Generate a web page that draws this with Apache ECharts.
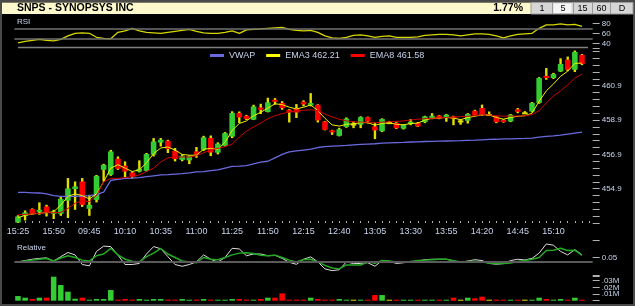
<!DOCTYPE html>
<html>
<head>
<meta charset="utf-8">
<script src="https://cdn.jsdelivr.net/npm/echarts@6.0.0/dist/echarts.min.js"></script>
<style>
html, body { margin: 0; padding: 0; background: #000; }
#chart { width: 635px; height: 306px; }
</style>
</head>
<body>
<div id="chart"></div>
<script>
// 5分钟K线 SNPS，前一天尾盘 + 当天
var times = ['15:25','15:30','15:35','15:40','15:45','15:50','15:55',
  '09:30','09:35','09:40','09:45','09:50','09:55','10:00','10:05','10:10','10:15','10:20','10:25','10:30',
  '10:35','10:40','10:45','10:50','10:55','11:00','11:05','11:10','11:15','11:20','11:25','11:30','11:35',
  '11:40','11:45','11:50','11:55','12:00','12:05','12:10','12:15','12:20','12:25','12:30','12:35','12:40',
  '12:45','12:50','12:55','13:00','13:05','13:10','13:15','13:20','13:25','13:30','13:35','13:40','13:45',
  '13:50','13:55','14:00','14:05','14:10','14:15','14:20','14:25','14:30','14:35','14:40','14:45','14:50',
  '14:55','15:00','15:05','15:10','15:15','15:20','15:25','15:30',''];

var opens = [452.93,453.32,453.71,453.55,453.86,453.44,453.44,454.2,454.88,455.32,
  453.73,454.25,456.0,455.71,456.64,456.24,455.84,455.9,455.94,456.88,
  457.59,457.69,457.11,456.58,456.55,457.07,457.17,457.85,457.0,457.4,
  457.94,459.31,459.15,458.92,459.63,459.37,460.08,459.89,459.5,459.6,
  459.97,459.75,459.79,458.82,458.3,457.98,458.5,458.7,458.63,459.07,
  458.53,458.25,458.78,458.73,458.4,458.67,458.73,458.78,459.0,459.17,
  459.02,459.11,458.88,458.86,459.44,459.6,459.25,459.11,458.9,458.82,
  459.53,459.35,459.4,459.9,461.48,461.35,461.73,462.42,461.83,462.7];
var closes = [453.28,453.51,453.44,453.67,453.51,453.57,454.31,454.91,455.03,453.96,
  453.96,455.65,456.29,457.07,456.06,455.9,455.61,456.06,456.92,457.65,
  457.75,457.21,456.63,456.82,456.8,456.88,457.89,457.01,457.52,458.14,
  459.31,459.05,458.97,459.69,459.5,459.93,459.98,459.6,459.37,459.34,
  459.81,459.89,458.88,458.33,458.18,458.37,458.98,458.7,459.07,458.82,
  458.3,458.96,458.78,458.43,458.62,458.8,458.53,459.11,459.15,458.98,
  459.21,458.98,458.88,459.25,459.2,459.2,459.25,458.78,458.82,459.21,
  459.38,459.35,459.9,461.35,461.35,461.58,462.17,461.83,462.87,462.17];
var lows = [452.9,453.05,453.4,453.38,453.28,453.13,453.32,453.19,453.67,453.84,
  453.32,454.1,455.32,455.65,456.0,455.58,455.5,455.85,455.9,456.78,
  457.36,456.98,456.49,456.5,456.33,456.7,457.1,456.8,456.9,457.35,
  457.85,458.73,458.9,458.9,459.25,459.35,459.8,459.5,458.76,459.02,
  459.7,459.7,458.76,458.3,458.04,457.95,458.45,458.43,458.43,458.7,
  457.79,458.2,458.7,458.38,458.35,458.6,458.5,458.72,458.95,458.95,
  458.8,458.6,458.63,458.7,459.15,459.15,459.15,458.72,458.75,458.78,
  459.3,459.3,459.35,459.85,461.25,461.3,461.7,461.75,461.7,462.1];
var highs = [453.35,453.63,453.75,454.1,453.96,453.67,454.41,455.52,455.32,455.52,
  454.54,455.7,456.35,457.16,456.78,456.49,455.9,456.55,456.98,457.85,
  457.85,457.75,457.27,456.9,456.84,457.33,457.98,458.0,457.6,458.2,
  459.41,459.4,459.2,459.79,459.85,460.2,460.18,460.0,459.54,459.83,
  460.05,460.47,459.82,458.85,458.33,458.45,459.05,458.82,459.12,459.1,
  458.76,459.0,458.85,458.78,458.66,458.96,458.78,459.15,459.3,459.2,
  459.25,459.15,458.95,459.3,459.5,459.8,459.4,459.15,458.95,459.25,
  459.6,459.42,459.95,461.4,461.93,461.65,462.5,462.6,462.95,462.75];

var vwap = [454.68,454.68,454.66,454.65,454.6,454.5,454.45,454.45,454.46,454.47,
  454.5,454.55,454.7,455.38,455.45,455.5,455.52,455.55,455.6,455.65,
  455.7,455.72,455.75,455.78,455.82,455.88,455.9,455.95,456.0,456.1,
  456.2,456.22,456.25,456.35,456.45,456.5,456.7,456.9,457.05,457.1,
  457.15,457.2,457.3,457.35,457.38,457.4,457.42,457.45,457.48,457.5,
  457.52,457.55,457.57,457.59,457.6,457.62,457.63,457.65,457.66,457.67,
  457.68,457.69,457.7,457.72,457.73,457.75,457.77,457.78,457.8,457.8,
  457.82,457.83,457.85,457.9,457.95,457.98,458.02,458.08,458.14,458.2];
var ema3 = [453.2,453.35,453.42,453.48,453.5,453.55,453.95,454.45,454.6,454.5,
  454.3,454.6,455.3,456.1,456.3,456.1,455.9,456.0,456.4,456.95,
  457.27,457.33,457.15,456.9,456.85,456.85,457.2,457.25,457.2,457.6,
  458.3,458.7,458.85,459.15,459.35,459.6,459.85,459.8,459.65,459.55,
  459.65,459.78,459.45,459.0,458.62,458.55,458.65,458.68,458.75,458.75,
  458.6,458.7,458.75,458.65,458.62,458.7,458.72,458.9,459.0,459.02,
  459.05,459.02,458.92,459.05,459.12,459.21,459.2,459.05,458.95,459.05,
  459.12,459.15,459.3,460.0,460.6,461.0,461.45,461.75,462.2,462.22];
var ema8 = [453.38,453.4,453.43,453.46,453.5,453.5,453.52,453.75,454.05,454.2,
  454.15,454.5,455.3,455.5,455.5,455.55,455.6,455.7,455.9,456.1,
  456.45,456.7,456.75,456.75,456.74,456.82,457.0,457.17,457.25,457.35,
  457.5,457.9,458.25,458.5,458.73,458.98,459.15,459.28,459.36,459.42,
  459.47,459.5,459.45,459.25,459.08,458.95,458.85,458.8,458.78,458.77,
  458.74,458.78,458.8,458.82,458.85,458.9,458.95,458.98,459.0,459.03,
  459.05,459.08,459.1,459.12,459.16,459.21,459.2,459.15,459.13,459.13,
  459.14,459.15,459.22,459.45,459.9,460.3,460.6,460.95,461.35,461.58];

var rsi = [41,44,46,48,46,45,48,55,60,61,60,52,50,49,62,65,70,65,62,61,
  60,62,64,66,68,64,61,60,60,62,65,60,67,68,69,70,71,72,68,66,
  65,66,62,55,51,50,52,56,57,55,52,54,55,52,52,52,53,56,57,58,
  58,57,55,57,59,59,58,55,51,55,58,59,60,70,77,77,79,77,78,74];

var relWhite = [0,0.015,0.03,0.04,0.046,0.01,0.06,0.107,0.08,-0.03,
  -0.045,0.12,0.18,0.175,0.077,-0.03,-0.03,-0.018,0.09,0.175,
  0.15,0.06,-0.03,-0.05,-0.03,0,0.08,0.03,-0.003,0.05,
  0.155,0.148,0.07,0.09,0.09,0.07,0.076,0.04,-0.005,-0.028,
  0.03,0.057,0,-0.08,-0.1,-0.09,0,-0.02,-0.018,-0.01,
  -0.05,0.015,0.008,-0.018,-0.01,0,0.01,0.025,0.03,0.03,
  0.03,0.012,-0.005,0.01,0.025,0.015,-0.018,-0.027,-0.02,0.015,
  0.03,0.022,0.04,0.1,0.205,0.19,0.12,0.08,0.14,0.08];
var relGreen = [0,0.01,0.02,0.03,0.038,0.01,0.045,0.069,0.05,0.02,
  0.01,0.07,0.09,0.155,0.08,0.03,0.008,0,0.06,0.1,
  0.153,0.09,0.05,0.01,0,-0.01,0.05,0.03,0.025,0.05,
  0.08,0.1,0.105,0.095,0.075,0.07,0.077,0.05,0.02,0,
  0.028,0.03,0,-0.04,-0.07,-0.08,-0.035,-0.035,-0.035,0,
  -0.015,0.015,0.01,0,-0.005,0.005,0.015,0.02,0.025,0.03,
  0.03,0.012,0,0.005,0.008,0,-0.015,-0.018,-0.018,-0.012,
  0.005,0.015,0.03,0.05,0.13,0.134,0.155,0.13,0.134,0.075];

var volume = [0.007,0.0045,0.0025,0.0045,0.0045,0.036,0.0235,0.0135,0.003,0.0045,
  0.0015,0.0025,0.0025,0.016,0.0015,0.0025,0.0015,0.0025,0.0015,0.0025,
  0.0025,0.0015,0.0015,0.0025,0.0015,0.0015,0.0025,0.0015,0.0015,0.0015,
  0.0025,0.0025,0.0015,0.0015,0.0025,0.0045,0.0045,0.011,0.0015,0.0015,
  0.0015,0.0045,0.0025,0.0015,0.0015,0.0025,0.0015,0.0015,0.0015,0.0015,
  0.0085,0.0085,0.0015,0.0015,0.0015,0.0015,0.0015,0.0015,0.0015,0.0015,
  0.0015,0.0045,0.0015,0.0045,0.0035,0.006,0.0015,0.0015,0.0015,0.0015,
  0.0015,0.0015,0.0015,0.0045,0.0025,0.0015,0.0025,0.0015,0.0045,0.0015];

var rsiTicks = [40, 60, 80];
var priceLabels = [454.9, 456.9, 458.9, 460.9];
var relLabels = [0.05];
var volLabels = ['.01M', '.02M', '.03M'];

var UP = '#33cc33', DOWN = '#ff0000', WICK = '#e0e000';
var LABEL = '#c8d4ec';
var FONT = 'Arial';

var candleData = [];
for (var i = 0; i < opens.length; i++) {
    candleData.push([i, opens[i], closes[i], lows[i], highs[i]]);
}

function barColor(i) {
    if (closes[i] > opens[i]) return UP;
    if (closes[i] < opens[i]) return DOWN;
    return WICK;
}

function renderCandle(params, api) {
    var i = api.value(0);
    var top = api.coord([i, api.value(4)]);
    var bot = api.coord([i, api.value(3)]);
    var po = api.coord([i, api.value(1)]);
    var pc = api.coord([i, api.value(2)]);
    var w = api.size([1, 0])[0];
    var bw = w * 0.78;
    var y1 = Math.min(po[1], pc[1]);
    var h = Math.max(Math.abs(po[1] - pc[1]), 2);
    return {
        type: 'group',
        children: [
            { type: 'rect', shape: { x: top[0] - 1.2, y: top[1], width: 2.4, height: bot[1] - top[1] }, style: { fill: WICK } },
            { type: 'rect', shape: { x: top[0] - bw / 2, y: y1, width: bw, height: h }, style: { fill: barColor(params.dataIndex) } }
        ]
    };
}

function near(v, list) {
    for (var k = 0; k < list.length; k++) {
        if (Math.abs(v - list[k]) < 0.001) return true;
    }
    return false;
}

var L = 14.4, R = 42.3;

function catAxis(idx, show) {
    return {
        type: 'category', gridIndex: idx, data: times, boundaryGap: true,
        axisLine: { show: false },
        axisTick: { show: show, inside: true, length: 2, interval: 0, alignWithLabel: true, lineStyle: { color: '#b0b0b0' } },
        axisLabel: { show: show, interval: 4, color: LABEL, fontSize: 9, fontFamily: FONT, margin: 4 },
        splitLine: { show: false }
    };
}

function valAxis(idx, min, max, interval, fmt) {
    return {
        type: 'value', gridIndex: idx, position: 'right', min: min, max: max, interval: interval,
        axisLine: { show: false },
        axisTick: { show: true, length: 7, lineStyle: { color: '#b0b0b0' } },
        axisLabel: { color: LABEL, fontSize: 8, fontFamily: FONT, margin: 9, formatter: fmt },
        splitLine: { show: false }
    };
}

var chart = echarts.init(document.getElementById('chart'));
chart.setOption({
    backgroundColor: '#000',
    animation: false,
    textStyle: { fontFamily: FONT },
    legend: {
        left: 210, top: 51, padding: 0, itemWidth: 14, itemHeight: 3, itemGap: 11, icon: 'rect',
        textStyle: { color: LABEL, fontSize: 9, fontFamily: FONT },
        data: ['VWAP', 'EMA3 462.21', 'EMA8 461.58']
    },
    grid: [
        { left: L, right: R, top: 23.3, height: 20 },
        { left: L, right: R, top: 48, height: 175 },
        { left: L, right: R, top: 240, height: 35 },
        { left: L, right: R, top: 276.7, height: 24 }
    ],
    xAxis: [catAxis(0, false), catAxis(1, true), catAxis(2, false), catAxis(3, false)],
    yAxis: [
        valAxis(0, 40, 80, 20, function (v) { return near(v, rsiTicks) ? String(v) : ''; }),
        valAxis(1, 452.9, 463.1, 0.4, function (v) { return near(v, priceLabels) ? v.toFixed(1) : ''; }),
        valAxis(2, -0.15, 0.25, 0.2, function (v) { return near(v, relLabels) ? v.toFixed(2) : ''; }),
        valAxis(3, 0, 0.036, 0.01, function (v) {
            var k = Math.round(v * 100);
            return (Math.abs(v * 100 - k) < 0.001 && k >= 1 && k <= 3) ? volLabels[k - 1] : '';
        })
    ],
    graphic: [
        { type: 'rect', shape: { x: 1, y: 1, width: 633, height: 304 }, style: { fill: null, stroke: '#4a4a4a', lineWidth: 2 } },
        { type: 'rect', shape: { x: 2, y: 2.5, width: 529, height: 11.5 }, style: { fill: '#fdf9cc' } },
        { type: 'text', x: 17, y: 3, style: { text: 'SNPS - SYNOPSYS INC', fill: '#000', font: 'bold 10.5px Arial' } },
        { type: 'text', x: 523, y: 3, style: { text: '1.77%', fill: '#000', font: 'bold 10.5px Arial', align: 'right' } },
        { type: 'rect', shape: { x: 531, y: 2.5, width: 102, height: 11.5 }, style: { fill: '#d6d6d6', stroke: '#9a9a9a', lineWidth: 1 } },
        { type: 'rect', shape: { x: 553.5, y: 3.5, width: 18, height: 9.5 }, style: { fill: '#f6f6f6' } },
        { type: 'line', shape: { x1: 552.5, y1: 3, x2: 552.5, y2: 14 }, style: { stroke: '#9a9a9a' } },
        { type: 'line', shape: { x1: 573.5, y1: 3, x2: 573.5, y2: 14 }, style: { stroke: '#9a9a9a' } },
        { type: 'line', shape: { x1: 592.5, y1: 3, x2: 592.5, y2: 14 }, style: { stroke: '#9a9a9a' } },
        { type: 'line', shape: { x1: 610.5, y1: 3, x2: 610.5, y2: 14 }, style: { stroke: '#9a9a9a' } },
        { type: 'text', x: 542, y: 4, style: { text: '1', fill: '#000', font: '9px Arial', align: 'center' } },
        { type: 'text', x: 563, y: 4, style: { text: '5', fill: '#000', font: '9px Arial', align: 'center' } },
        { type: 'text', x: 582.5, y: 4, style: { text: '15', fill: '#000', font: '9px Arial', align: 'center' } },
        { type: 'text', x: 601.5, y: 4, style: { text: '60', fill: '#000', font: '9px Arial', align: 'center' } },
        { type: 'text', x: 622, y: 4, style: { text: 'D', fill: '#000', font: '9px Arial', align: 'center' } },
        { type: 'text', x: 17, y: 18, style: { text: 'RSI', fill: LABEL, font: '8px Arial' } },
        { type: 'line', shape: { x1: 18, y1: 47.5, x2: 588, y2: 47.5 }, style: { stroke: '#808080', lineWidth: 1.5 } },
        { type: 'text', x: 17, y: 244, style: { text: 'Relative', fill: LABEL, font: '8px Arial' } }
    ],
    series: [
        {
            name: 'RSI', type: 'line', xAxisIndex: 0, yAxisIndex: 0, data: rsi, symbol: 'none',
            lineStyle: { color: '#d6d600', width: 1.3 },
            markLine: {
                silent: true, symbol: 'none', label: { show: false },
                lineStyle: { color: '#707070', width: 1.5, type: 'solid' },
                data: [{ yAxis: 70 }, { yAxis: 50 }]
            }
        },
        {
            name: 'candles', type: 'custom', xAxisIndex: 1, yAxisIndex: 1, renderItem: renderCandle,
            encode: { x: 0, y: [1, 2, 3, 4] }, data: candleData, z: 2
        },
        {
            name: 'VWAP', type: 'line', xAxisIndex: 1, yAxisIndex: 1, data: vwap, symbol: 'none', z: 3,
            itemStyle: { color: '#6a6ae0' }, lineStyle: { color: '#6a6ae0', width: 1.3 }
        },
        {
            name: 'EMA3 462.21', type: 'line', xAxisIndex: 1, yAxisIndex: 1, data: ema3, symbol: 'none', z: 4,
            itemStyle: { color: '#ffff00' }, lineStyle: { color: '#f0f000', width: 1 }
        },
        {
            name: 'EMA8 461.58', type: 'line', xAxisIndex: 1, yAxisIndex: 1, data: ema8, symbol: 'none', z: 4,
            itemStyle: { color: '#ff0000' }, lineStyle: { color: '#d00000', width: 1 }
        },
        {
            name: 'relWhite', type: 'line', xAxisIndex: 2, yAxisIndex: 2, data: relWhite, symbol: 'none', z: 3,
            lineStyle: { color: '#dcdcdc', width: 1 },
            markLine: {
                silent: true, symbol: 'none', label: { show: false },
                lineStyle: { color: '#5a5a5a', width: 2, type: 'solid' },
                data: [{ yAxis: 0 }]
            }
        },
        {
            name: 'relGreen', type: 'line', xAxisIndex: 2, yAxisIndex: 2, data: relGreen, symbol: 'none', z: 4,
            lineStyle: { color: '#22aa22', width: 1.5 }
        },
        {
            name: 'volume', type: 'bar', xAxisIndex: 3, yAxisIndex: 3, data: volume, barWidth: 5.5,
            itemStyle: { color: function (p) { return barColor(p.dataIndex); } }
        }
    ]
});
</script>
</body>
</html>
